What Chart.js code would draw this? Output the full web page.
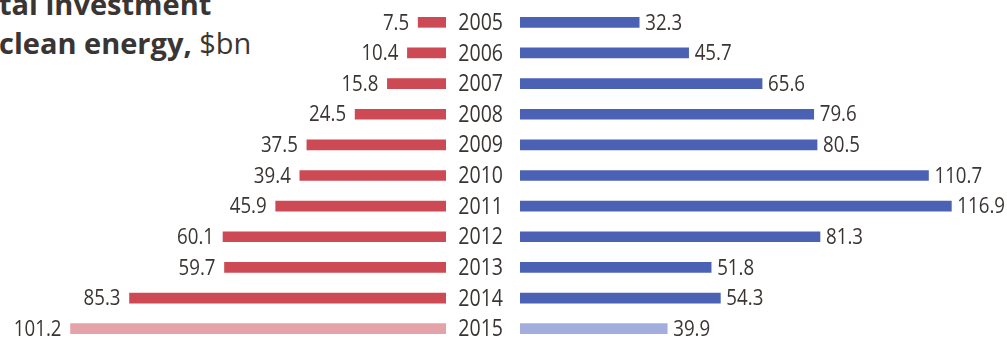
<!DOCTYPE html>
<html>
<head>
<meta charset="utf-8">
<script src="https://cdn.jsdelivr.net/npm/chart.js@4.4.1/dist/chart.umd.min.js"></script>
<style>
    html, body { margin: 0; padding: 0; background: #fff; overflow: hidden; }
    #wrap { position: relative; width: 1007px; height: 340px; }
    .title {
        position: absolute; left: -1px; top: -16px;
        font-family: "Open Sans", sans-serif; font-size: 29px; line-height: 39px;
        font-weight: 700; color: #3a3532; white-space: nowrap;
    }
    .title span { font-weight: 400; }
    #leftBox  { position: absolute; left: 0;     top: 7px; width: 446px; height: 337px; }
    #rightBox { position: absolute; left: 446px; top: 7px; width: 561px; height: 337px; }
</style>
</head>
<body>
<div id="wrap">
    <div class="title">tal investment<br>clean energy, <span>$bn</span></div>
    <div id="leftBox"><canvas id="leftChart"></canvas></div>
    <div id="rightBox"><canvas id="rightChart"></canvas></div>
</div>

<script>
/* ── Données ───────────────────────────────────────────────── */

const years       = ["2005", "2006", "2007", "2008", "2009", "2010", "2011", "2012", "2013", "2014", "2015"];
const leftValues  = [7.5, 10.4, 15.8, 24.5, 37.5, 39.4, 45.9, 60.1, 59.7, 85.3, 101.2];
const rightValues = [32.3, 45.7, 65.6, 79.6, 80.5, 110.7, 116.9, 81.3, 51.8, 54.3, 39.9];

const RED        = "#cd4a55";
const RED_LIGHT  = "#e4a3a9";
const BLUE       = "#4b62b4";
const BLUE_LIGHT = "#a3aede";
const TEXT       = "#3a3532";
const YEAR_FONT  = "23px 'Open Sans', sans-serif";
const VALUE_FONT = "22px 'Open Sans', sans-serif";
const NARROW     = 0.85;   // police condensée : on resserre horizontalement
const PX_LEFT    = 3.71;   // pixels par milliard
const PX_RIGHT   = 3.69;

/* ── Texte condensé ────────────────────────────────────────── */

function narrowText(ctx, text, x, y, align, font) {
    ctx.save();
    ctx.translate(x, y);
    ctx.scale(NARROW, 1);
    ctx.font         = font;
    ctx.fillStyle    = TEXT;
    ctx.textBaseline = "middle";
    ctx.textAlign    = align;
    ctx.fillText(text, 0, 0);
    ctx.restore();
}

// Valeurs au bout des barres
const valueLabels = {
    id: "valueLabels",
    afterDatasetsDraw(chart, args, opts) {
        const meta   = chart.getDatasetMeta(0);
        const values = chart.data.datasets[0].data;
        meta.data.forEach((bar, i) => {
            const left = opts.side === "left";
            const x    = left ? bar.x - opts.gap : bar.x + opts.gap;
            narrowText(chart.ctx, values[i].toFixed(1), x, bar.y + 1, left ? "right" : "left", VALUE_FONT);
        });
    },
};

// Années au centre, placées par l'axe y
const yearLabels = {
    id: "yearLabels",
    afterDraw(chart) {
        const scale = chart.scales.y;
        scale.ticks.forEach((tick, i) => {
            narrowText(chart.ctx, scale.getLabelForValue(tick.value), scale.right - 17,
                       scale.getPixelForTick(i) + 1, "right", YEAR_FONT);
        });
    },
};

function barColors(base, light) {
    return years.map((y, i) => (i === years.length - 1 ? light : base));
}

/* ── Graphiques ────────────────────────────────────────────── */

const COMMON = {
    responsive: true,
    maintainAspectRatio: false,
    animation: false,
    indexAxis: "y",
    layout: { padding: 0 },
    plugins: { legend: { display: false }, tooltip: { enabled: false } },
};

new Chart(document.getElementById("leftChart"), {
    type: "bar",
    data: {
        labels: years,
        datasets: [{
            data: leftValues,
            backgroundColor: barColors(RED, RED_LIGHT),
            barThickness: 10,
            borderWidth: 0,
        }],
    },
    options: {
        ...COMMON,
        plugins: { ...COMMON.plugins, valueLabels: { side: "left", gap: 9 } },
        scales: {
            x: { display: false, reverse: true, min: 0, max: 446 / PX_LEFT },
            y: { display: false },
        },
    },
    plugins: [valueLabels],
});

new Chart(document.getElementById("rightChart"), {
    type: "bar",
    data: {
        labels: years,
        datasets: [{
            data: rightValues,
            backgroundColor: barColors(BLUE, BLUE_LIGHT),
            barThickness: 10,
            borderWidth: 0,
        }],
    },
    options: {
        ...COMMON,
        plugins: { ...COMMON.plugins, valueLabels: { side: "right", gap: 6 } },
        scales: {
            x: { display: false, min: 0, max: 487 / PX_RIGHT },
            y: {
                position: "left",
                grid:   { display: false, drawTicks: false },
                border: { display: false },
                ticks:  { display: false, padding: 0 },
                afterFit: (scale) => {
                    scale.width = 74;
                    scale.paddingTop = 0;
                    scale.paddingBottom = 0;
                },
            },
        },
    },
    plugins: [valueLabels, yearLabels],
});
</script>
</body>
</html>
